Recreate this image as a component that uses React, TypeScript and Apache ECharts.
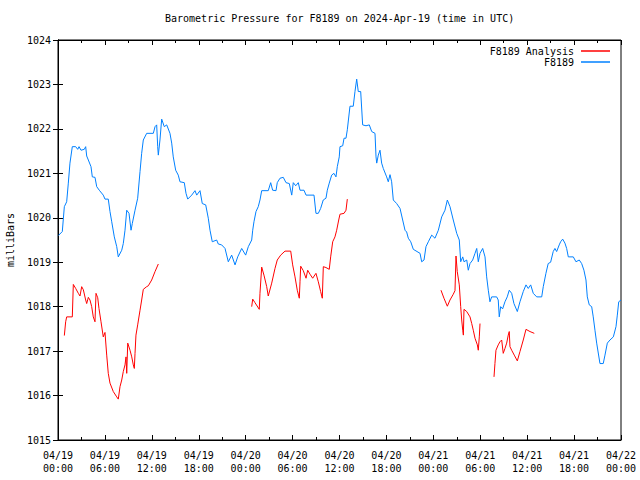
import React, { useEffect, useRef } from "react";
import * as echarts from "echarts";

// Hours since 2024-04-19 00:00 UTC and pressure (mb)
const stationSeries: [number, number][] = [
  [0.04, 1019.6], [0.55, 1019.69], [0.81, 1020.25], [1.11, 1020.36], [1.32, 1020.78], [1.53, 1021.23],
  [1.83, 1021.6], [2.26, 1021.6], [2.52, 1021.54], [2.69, 1021.6], [2.94, 1021.52], [3.36, 1021.54],
  [3.54, 1021.6], [3.67, 1021.39], [3.88, 1021.3], [4.22, 1021.15], [4.39, 1020.92], [4.73, 1020.91],
  [4.95, 1020.7], [5.28, 1020.62], [5.79, 1020.51], [6.01, 1020.42], [6.43, 1020.42], [6.65, 1020.14],
  [6.87, 1019.91], [7.2, 1019.57], [7.51, 1019.35], [7.71, 1019.12], [8.15, 1019.27], [8.35, 1019.42],
  [8.57, 1019.72], [8.79, 1020.17], [9.08, 1020.1], [9.34, 1019.72], [9.5, 1019.87], [9.85, 1020.17],
  [10.19, 1020.44], [10.49, 1021.04], [10.7, 1021.45], [10.91, 1021.75], [11.34, 1021.9], [12.19, 1021.9],
  [12.41, 1022.05], [12.62, 1022.09], [12.75, 1021.6], [12.83, 1021.41], [13.04, 1021.75], [13.26, 1022.22],
  [13.59, 1022.05], [13.9, 1022.09], [14.32, 1021.9], [14.54, 1021.68], [14.74, 1021.37], [15.05, 1021.07],
  [15.38, 1020.96], [15.6, 1020.81], [16.15, 1020.79], [16.37, 1020.55], [16.59, 1020.42], [17.1, 1020.51],
  [17.52, 1020.61], [17.74, 1020.51], [18.16, 1020.61], [18.45, 1020.32], [18.89, 1020.29], [19.22, 1019.99],
  [19.44, 1019.72], [19.73, 1019.46], [20.29, 1019.5], [20.5, 1019.41], [20.93, 1019.39], [21.36, 1019.31],
  [21.78, 1019.01], [22.21, 1019.16], [22.64, 1018.94], [22.98, 1019.12], [23.49, 1019.31], [24.0, 1019.16],
  [24.34, 1019.35], [24.77, 1019.5], [24.9, 1019.72], [25.06, 1019.91], [25.32, 1020.14], [25.61, 1020.25],
  [25.83, 1020.4], [26.05, 1020.61], [26.89, 1020.61], [27.2, 1020.79], [27.45, 1020.62], [27.88, 1020.61],
  [28.04, 1020.79], [28.39, 1020.89], [28.81, 1020.91], [29.16, 1020.79], [29.58, 1020.77], [29.89, 1020.51],
  [30.09, 1020.79], [30.4, 1020.72], [30.73, 1020.79], [30.95, 1020.62], [31.46, 1020.62], [31.72, 1020.51],
  [32.74, 1020.51], [32.99, 1020.1], [33.29, 1020.1], [33.59, 1020.21], [33.92, 1020.4], [34.27, 1020.44],
  [34.44, 1020.62], [34.69, 1020.78], [35.0, 1020.96], [35.29, 1021.0], [35.55, 1020.92], [35.72, 1021.15],
  [35.97, 1021.37], [36.06, 1021.6], [36.41, 1021.62], [36.58, 1021.79], [36.83, 1021.79], [37.0, 1021.98],
  [37.34, 1022.51], [37.76, 1022.51], [37.98, 1022.84], [38.2, 1023.12], [38.4, 1022.84], [38.71, 1022.84],
  [38.96, 1022.09], [39.39, 1022.07], [39.81, 1022.09], [40.12, 1021.94], [40.54, 1021.9], [40.67, 1021.37],
  [40.76, 1021.23], [40.96, 1021.41], [41.18, 1021.52], [41.39, 1021.23], [41.6, 1021.11], [42.03, 1020.92],
  [42.24, 1020.81], [42.46, 1020.97], [42.67, 1020.81], [42.88, 1020.4], [43.31, 1020.32], [43.74, 1020.21],
  [44.08, 1019.95], [44.38, 1019.72], [44.59, 1019.68], [44.8, 1019.54], [45.11, 1019.46], [45.44, 1019.29],
  [46.3, 1019.2], [46.51, 1019.01], [46.81, 1019.05], [47.06, 1019.35], [47.36, 1019.46], [47.79, 1019.61],
  [48.21, 1019.54], [48.64, 1019.72], [49.07, 1020.02], [49.49, 1020.17], [49.79, 1020.4], [50.13, 1020.25],
  [50.55, 1019.95], [50.99, 1019.65], [51.32, 1019.5], [51.5, 1019.01], [51.76, 1019.12], [51.92, 1019.01],
  [52.27, 1019.05], [52.47, 1018.82], [52.69, 1018.97], [53.03, 1019.05], [53.33, 1019.2], [53.55, 1019.31],
  [53.75, 1019.01], [53.97, 1019.2], [54.31, 1019.31], [54.61, 1019.12], [54.82, 1018.67], [55.03, 1018.37],
  [55.24, 1018.11], [55.46, 1018.22], [56.1, 1018.22], [56.3, 1018.15], [56.43, 1017.77], [56.61, 1018.0],
  [56.86, 1017.95], [57.16, 1018.11], [57.45, 1018.22], [57.71, 1018.37], [58.02, 1018.3], [58.31, 1018.07],
  [58.74, 1017.89], [59.08, 1018.11], [59.5, 1018.34], [59.85, 1018.49], [60.14, 1018.41], [60.45, 1018.49],
  [60.78, 1018.3], [61.22, 1018.22], [61.86, 1018.22], [62.06, 1018.45], [62.4, 1018.75], [62.69, 1018.97],
  [63.0, 1019.0], [63.33, 1019.24], [63.55, 1019.31], [63.77, 1019.24], [64.1, 1019.39], [64.28, 1019.46],
  [64.54, 1019.52], [64.83, 1019.43], [65.05, 1019.31], [65.26, 1019.12], [65.9, 1019.12], [66.24, 1019.01],
  [66.66, 1019.05], [66.97, 1018.97], [67.26, 1018.82], [67.52, 1018.6], [67.69, 1018.22], [67.94, 1018.04],
  [68.25, 1018.0], [68.45, 1017.77], [68.67, 1017.47], [68.89, 1017.18], [69.31, 1016.72], [69.73, 1016.72],
  [69.95, 1016.91], [70.25, 1017.18], [70.59, 1017.25], [71.02, 1017.32], [71.36, 1017.55], [71.53, 1017.81],
  [71.71, 1018.11], [72.0, 1018.15],
];

const analysisSeg1: [number, number][] = [
  [0.81, 1017.35], [0.98, 1017.66], [1.11, 1017.77], [1.83, 1017.77], [1.96, 1018.5], [2.26, 1018.41],
  [2.6, 1018.3], [2.81, 1018.24], [3.03, 1018.45], [3.24, 1018.38], [3.54, 1018.15], [3.67, 1018.07],
  [3.88, 1018.21], [4.09, 1018.15], [4.31, 1018.0], [4.51, 1017.77], [4.73, 1017.66], [4.86, 1018.3],
  [5.08, 1018.2], [5.24, 1017.96], [5.5, 1017.66], [5.79, 1017.32], [6.01, 1017.42], [6.23, 1016.91],
  [6.43, 1016.5], [6.65, 1016.28], [7.07, 1016.09], [7.51, 1015.97], [7.71, 1015.92], [7.93, 1016.2],
  [8.15, 1016.35], [8.35, 1016.54], [8.57, 1016.69], [8.7, 1016.87], [8.79, 1016.5], [8.92, 1017.18],
  [9.21, 1017.02], [9.43, 1016.87], [9.63, 1016.69], [9.76, 1016.61], [9.85, 1016.95], [9.97, 1017.36],
  [10.19, 1017.59], [10.49, 1017.92], [10.7, 1018.15], [10.91, 1018.39], [11.34, 1018.45], [11.55, 1018.47],
  [11.98, 1018.6], [12.41, 1018.79], [12.83, 1018.96],
];
const analysisSeg2: [number, number][] = [
  [24.77, 1018.0], [24.9, 1018.17], [25.19, 1018.09], [25.74, 1017.94], [25.83, 1018.3], [26.05, 1018.89],
  [26.34, 1018.71], [26.69, 1018.45], [26.89, 1018.24], [27.33, 1018.53], [27.75, 1018.86], [28.04, 1019.05],
  [28.48, 1019.16], [29.03, 1019.25], [29.76, 1019.25], [30.01, 1018.94], [30.31, 1018.67], [30.6, 1018.37],
  [30.86, 1018.19], [30.95, 1018.56], [31.04, 1018.91], [31.37, 1018.81], [31.72, 1018.64], [31.93, 1018.82],
  [32.23, 1018.73], [32.57, 1018.64], [32.99, 1018.75], [33.29, 1018.56], [33.59, 1018.34], [33.8, 1018.19],
  [33.93, 1018.9], [34.27, 1018.88], [34.69, 1018.84], [34.87, 1019.12], [35.13, 1019.46], [35.42, 1019.57],
  [35.64, 1019.72], [35.9, 1019.95], [36.06, 1020.08], [36.58, 1020.1], [36.83, 1020.17], [37.0, 1020.42],
];
const analysisSeg3: [number, number][] = [
  [48.98, 1018.37], [49.36, 1018.19], [49.79, 1018.01], [50.13, 1018.15], [50.55, 1018.28], [50.77, 1018.36],
  [50.9, 1019.14], [51.06, 1018.79], [51.32, 1018.49], [51.5, 1018.0], [51.63, 1017.7], [51.76, 1017.47],
  [51.84, 1017.36], [51.92, 1017.94], [52.27, 1017.89], [52.69, 1017.77], [52.91, 1017.62], [53.11, 1017.47],
  [53.33, 1017.29], [53.63, 1017.14], [53.75, 1017.02], [53.88, 1017.32], [53.97, 1017.62],
];
const analysisSeg4: [number, number][] = [
  [55.76, 1016.42], [55.88, 1016.72], [56.01, 1017.02], [56.3, 1017.14], [56.52, 1017.21], [56.74, 1017.25],
  [56.94, 1016.95], [57.16, 1017.06], [57.38, 1017.18], [57.58, 1017.36], [57.71, 1017.44], [57.8, 1017.1],
  [58.02, 1017.02], [58.35, 1016.91], [58.74, 1016.78], [59.08, 1016.99], [59.5, 1017.25], [59.85, 1017.49],
  [60.36, 1017.44], [60.91, 1017.4],
];

const xTickLabels = [
  "04/19\n00:00", "04/19\n06:00", "04/19\n12:00", "04/19\n18:00",
  "04/20\n00:00", "04/20\n06:00", "04/20\n12:00", "04/20\n18:00",
  "04/21\n00:00", "04/21\n06:00", "04/21\n12:00", "04/21\n18:00",
  "04/22\n00:00",
];

const FONT = "DejaVu Sans Mono";

export default function App() {
  const ref = useRef<HTMLDivElement>(null);
  useEffect(() => {
    if (!ref.current) return;
    const chart = echarts.init(ref.current, undefined, { renderer: "svg" });
    const analysisData: any[] = [
      ...analysisSeg1, [18, "-"],
      ...analysisSeg2, [42, "-"],
      ...analysisSeg3, [55, "-"],
      ...analysisSeg4,
    ];
    const tickCommon = { show: true, inside: true, length: 5, lineStyle: { color: "#000" } };
    const minorCommon = { show: true, splitNumber: 2, length: 3, lineStyle: { color: "#000" } };
    chart.setOption({
      animation: false,
      backgroundColor: "#fff",
      textStyle: { fontFamily: FONT },
      title: {
        text: "Barometric Pressure for F8189 on 2024-Apr-19 (time in UTC)",
        left: 165,
        top: 13,
        padding: 0,
        textStyle: { fontFamily: FONT, fontSize: 10, fontWeight: "normal", color: "#000" },
      },
      legend: {
        orient: "vertical",
        right: 30,
        top: 46,
        padding: 0,
        align: "right",
        itemWidth: 29,
        itemHeight: 1.5,
        itemGap: 1,
        icon: "rect",
        textStyle: { fontFamily: FONT, fontSize: 10, color: "#000", padding: [0, 2, 0, 0] },
        data: ["F8189 Analysis", "F8189"],
      },
      grid: {
        left: 58, right: 19, top: 40, bottom: 40, show: true, borderColor: "#000", borderWidth: 1,
        containLabel: false, outerBoundsMode: "none",
      },
      xAxis: [
        {
          type: "value", min: 0, max: 72, interval: 6,
          axisLine: { show: true, lineStyle: { color: "#000" } },
          axisTick: tickCommon,
          minorTick: minorCommon,
          splitLine: { show: false },
          axisLabel: {
            fontFamily: FONT, fontSize: 10, color: "#000", margin: 9, lineHeight: 13,
            formatter: (v: number) => xTickLabels[Math.round(v / 6)] ?? "",
          },
        },
        {
          type: "value", min: 0, max: 72, interval: 6, position: "top",
          axisLine: { show: true, lineStyle: { color: "#000" } },
          axisTick: tickCommon,
          minorTick: minorCommon,
          splitLine: { show: false },
          axisLabel: { show: false },
        },
      ],
      yAxis: [
        {
          type: "value", min: 1015, max: 1024, interval: 1,
          name: "milliBars", nameLocation: "middle", nameRotate: 90, nameGap: 43,
          nameTextStyle: { fontFamily: FONT, fontSize: 10, color: "#000" },
          axisLine: { show: true, lineStyle: { color: "#000" } },
          axisTick: tickCommon,
          splitLine: { show: false },
          axisLabel: {
            fontFamily: FONT, fontSize: 10, color: "#000", margin: 7,
            formatter: (v: number) => String(v),
          },
        },
        {
          type: "value", min: 1015, max: 1024, interval: 1, position: "right",
          axisLine: { show: true, lineStyle: { color: "#000" } },
          axisTick: tickCommon,
          splitLine: { show: false },
          axisLabel: { show: false },
        },
      ],
      series: [
        {
          name: "F8189 Analysis", type: "line", showSymbol: false, connectNulls: false,
          color: "#ff0000", lineStyle: { width: 1, color: "#ff0000" },
          data: analysisData,
        },
        {
          name: "F8189", type: "line", showSymbol: false,
          color: "#0080ff", lineStyle: { width: 1, color: "#0080ff" },
          data: stationSeries,
        },
      ],
    });
    return () => chart.dispose();
  }, []);
  return <div ref={ref} style={{ position: "absolute", left: 0, top: 0, width: 640, height: 480 }} />;
}
